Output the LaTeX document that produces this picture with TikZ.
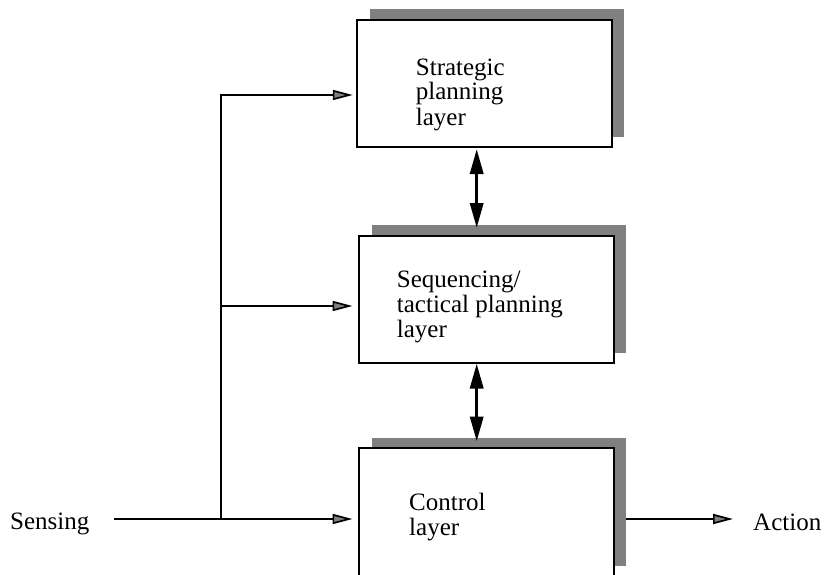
\documentclass[tikz,border=0pt]{standalone}
\usepackage{fontspec}
\setmainfont{Liberation Serif}
\usetikzlibrary{arrows.meta,calc}
\begin{document}
\begin{tikzpicture}[x=1pt,y=-1pt,
  layerbox/.style={draw=black,line width=2pt,fill=white,minimum width=255pt,minimum height=127pt,inner sep=0pt,outer sep=0pt},
  shadowbox/.style={fill=black!50,draw=none,minimum width=254pt,minimum height=128pt,inner sep=0pt,outer sep=0pt},
  layertext/.style={inner sep=0pt,anchor=base west,align=left,font=\fontsize{25}{25}\selectfont},
  labeltext/.style={inner sep=0pt,anchor=base west,font=\fontsize{25}{25}\selectfont},
  flow/.style={line width=1.7pt,-{Triangle[length=20pt,width=10pt,fill=black!50]}},
  bi/.style={line width=3.5pt,{Triangle[length=25pt,width=13pt,fill=black]}-{Triangle[length=25pt,width=13pt,fill=black]}}
]
\useasboundingbox (0,0) rectangle (824,575);
% shadows
\node[shadowbox] (stratsh) at (497,73) {};
\node[shadowbox] (seqsh) at (499,289) {};
\node[shadowbox] (ctrlsh) at (499,501.5) {};
% boxes
\node[layerbox] (strat) at (484.25,83.5) {};
\node[layerbox] (seq) at (486.5,299) {};
\node[layerbox,minimum height=136pt] (ctrl) at (486.5,516) {};
% texts (base anchor = last line)
\node[layertext] (strattxt) at (415.7,125) {Strategic\\planning\\layer};
\node[layertext] (seqtxt) at (396.7,337.5) {Sequencing/\\tactical planning\\layer};
\node[layertext] (ctrltxt) at (409,535) {Control\\layer};
\node[labeltext] (sens) at (10,529) {Sensing};
\node[labeltext] (act) at (753,530) {Action};
% coordinates
\coordinate (ln) at (0,519);
\coordinate (j) at (220.7,519);
\coordinate (jt) at (220.7,95);
\coordinate (jm) at (220.7,306);
\coordinate (ax) at (476.7,0);
% connectors
\draw[flow,shorten <=24pt,shorten >=6.5pt] (sens.east |- ln) -- (ctrl.west |- ln);
\draw[flow,shorten >=4pt] (j) -- (jt) -- (strat.west |- jt);
\draw[flow,shorten >=6.5pt] (jm) -- (seq.west |- jm);
\draw[flow,shorten >=20pt] (ctrlsh.east |- ln) -- (act.west |- ln);
\draw[bi,shorten <=2pt] (strat.south -| ax) -- ($(seqsh.north -| ax)+(0,3)$);
\draw[bi,shorten <=1pt] (seq.south -| ax) -- ($(ctrlsh.north -| ax)+(0,4)$);
\end{tikzpicture}
\end{document}
